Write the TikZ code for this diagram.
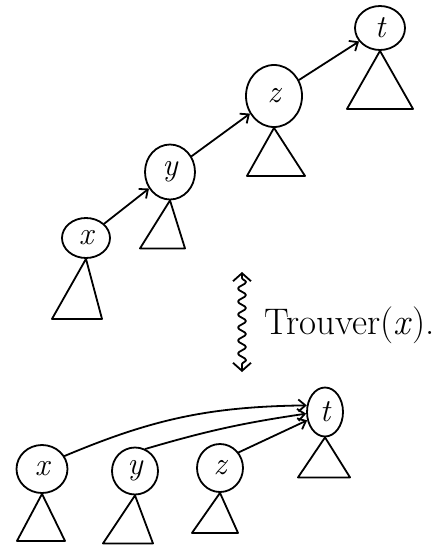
\documentclass[tikz,border=0pt]{standalone}
\usetikzlibrary{shapes.geometric,arrows.meta,decorations.pathmorphing}
\begin{document}
\begin{tikzpicture}[x=1pt,y=-1pt,line width=1.8pt,line join=round,line cap=round,
  vtx/.style={draw, ellipse, inner sep=0pt, font=\fontsize{32}{32}\selectfont\itshape},
  arr/.style={-{Straight Barb[length=7pt,width=12pt]}},
  wavy/.style={decorate, decoration={snake, amplitude=4pt, segment length=13pt, pre length=6pt, post length=6pt},
    {Straight Barb[length=8pt,width=18pt]}-{Straight Barb[length=8pt,width=18pt]}}]
\useasboundingbox (0,0) rectangle (436,551);
% top chain
\node[vtx, minimum width=48pt, minimum height=40pt] (x1) at (86,238) {x};
\node[vtx, minimum width=50pt, minimum height=55pt] (y1) at (170,172) {y};
\node[vtx, minimum width=56pt, minimum height=62pt] (z1) at (274,96) {z};
\node[vtx, minimum width=50pt, minimum height=44pt] (t1) at (380,28) {t};
\draw (x1.south) -- ++(-34,60) -- ++(50,0) -- cycle;
\draw (y1.south) -- ++(-30,48) -- ++(45,0) -- cycle;
\draw (z1.south) -- ++(-27,48) -- ++(58,0) -- cycle;
\draw (t1.south) -- ++(-33,58) -- ++(66,0) -- cycle;
\draw[arr] (x1) -- (y1);
\draw[arr] (y1) -- (z1);
\draw[arr] (z1) -- (t1);
% transformation
\coordinate (w1) at (242,272);
\coordinate (w2) at (242,372);
\draw[wavy] (w1) -- (w2);
\node[anchor=base west, inner sep=0pt, font=\fontsize{37}{37}\selectfont] (lbl) at (264,334) {Trouver(\textit{x}).};
% bottom
\node[vtx, minimum width=51pt, minimum height=48pt] (x2) at (42,469) {x};
\node[vtx, minimum width=46pt, minimum height=47pt] (y2) at (135,471) {y};
\node[vtx, minimum width=46pt, minimum height=48pt] (z2) at (220,468) {z};
\node[vtx, minimum width=36pt, minimum height=49pt] (t2) at (325,412) {t};
\draw (x2.south) -- ++(-25,47) -- ++(48,0) -- cycle;
\draw (y2.south) -- ++(-32,48) -- ++(50,0) -- cycle;
\draw (z2.south) -- ++(-28,40) -- ++(46,0) -- cycle;
\draw (t2.south) -- ++(-27,40) -- ++(52,0) -- cycle;
\draw[arr] (x2.30) to[bend left=11] (t2.160);
\draw[arr] (y2.65) to[bend left=4] (t2.185);
\draw[arr] (z2.40) -- (t2.205);
\end{tikzpicture}
\end{document}
